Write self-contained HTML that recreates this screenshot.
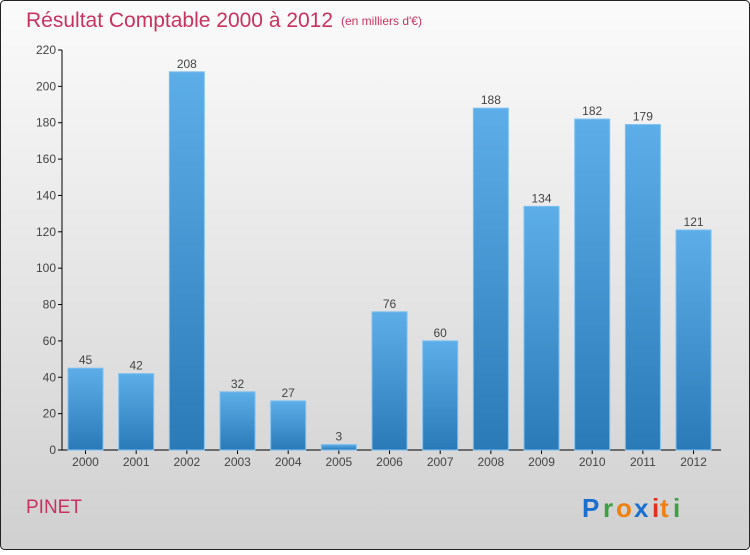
<!DOCTYPE html>
<html><head><meta charset="utf-8"><style>
body{margin:0;width:750px;height:550px;overflow:hidden;font-family:"Liberation Sans",sans-serif}
</style></head><body>
<svg width="750" height="550" xmlns="http://www.w3.org/2000/svg">
<defs>
<linearGradient id="bg" x1="0" y1="0" x2="0" y2="1"><stop offset="0" stop-color="#fbfbfb"/><stop offset="1" stop-color="#d0d0d0"/></linearGradient>
<linearGradient id="bar" x1="0" y1="0" x2="0" y2="1"><stop offset="0" stop-color="#5daee8"/><stop offset="1" stop-color="#2a7ab8"/></linearGradient>
</defs>
<rect x="0.5" y="0.5" width="749" height="549" rx="4" fill="url(#bg)" stroke="#222"/>
<text x="26" y="27" font-size="21" fill="#c8325e">Résultat Comptable 2000 à 2012</text>
<text x="341" y="25" font-size="12" fill="#c8325e">(en milliers d'€)</text>
<g id="axes"></g>
<g id="bars"></g>
<text x="26" y="513" font-size="19" fill="#c8325e">PINET</text>
<g font-size="26" font-weight="bold" font-family="'Liberation Sans',sans-serif">
<text x="582" y="517" fill="#1a6fcf">P</text><text x="603" y="517" fill="#3aa040">r</text><text x="616" y="517" fill="#f08010">o</text><text x="634" y="517" fill="#1a6fcf">x</text><text x="652" y="517" fill="#e03020">i</text><text x="660" y="517" fill="#f08010">t</text><text x="673" y="517" fill="#3aa040">i</text>
</g>
</svg>
<script>
const years=["2000","2001","2002","2003","2004","2005","2006","2007","2008","2009","2010","2011","2012"];
const values=[45,42,208,32,27,3,76,60,188,134,182,179,121];
const ticks=[0,20,40,60,80,100,120,140,160,180,200,220];
const ns="http://www.w3.org/2000/svg";
const y0=450,ymax=220,ph=400,x0=62,step=50.67,bw=35;
const Y=v=>y0-v/ymax*ph;
const X=i=>68+i*step;
function mk(t,a,p){const e=document.createElementNS(ns,t);for(const k in a)e.setAttribute(k,a[k]);p.appendChild(e);return e;}
const ax=document.getElementById('axes'),bg=document.getElementById('bars');
const yl=mk('line',{x1:x0,y1:Y(220),x2:x0,y2:y0,stroke:'#000'},ax);


const xl=mk('line',{x1:x0,y1:y0,x2:721,y2:y0,stroke:'#000'},ax);


ticks.forEach(t=>{
 mk('line',{x1:x0-4,y1:Y(t),x2:x0,y2:Y(t),stroke:'#000'},ax);
 const tx=mk('text',{x:x0-6,y:Y(t)+4,'font-size':12,fill:'#444','text-anchor':'end'},ax);tx.textContent=t;
 
 
});
years.forEach((yr,i)=>{
 const v=values[i],x=X(i);
 const r=mk('rect',{x:x,y:Y(v),width:bw,height:y0-Y(v),fill:'url(#bar)',stroke:'#7cc0f0','stroke-width':1},bg);
 
 
 const vl=mk('text',{x:x+bw/2,y:Y(v)-4,'font-size':12,fill:'#444','text-anchor':'middle'},bg);vl.textContent=v;
 
 
 mk('line',{x1:x+bw/2,y1:y0,x2:x+bw/2,y2:y0+4,stroke:'#000'},ax);
 const xt=mk('text',{x:x+bw/2,y:y0+16,'font-size':12,fill:'#444','text-anchor':'middle'},ax);xt.textContent=yr;
 
 
});
</script>
</body></html>
